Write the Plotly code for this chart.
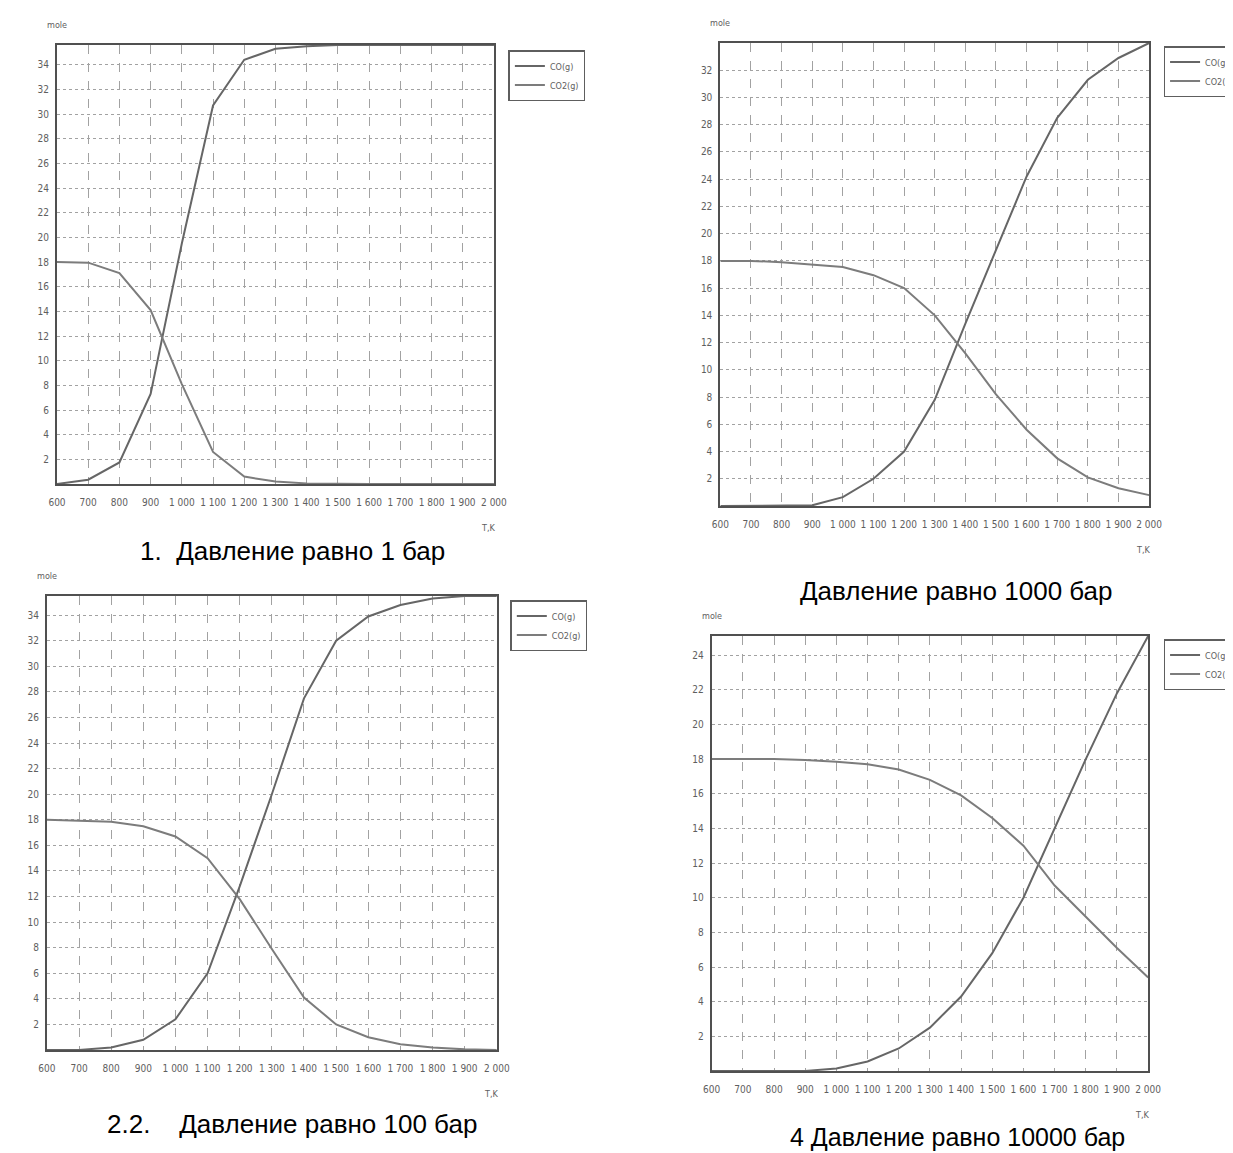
import plotly.graph_objects as go

# ---------------- data ----------------
T = [600, 700, 800, 900, 1000, 1100, 1200, 1300, 1400, 1500, 1600, 1700, 1800, 1900, 2000]
X_TICK_LABELS = ["600", "700", "800", "900", "1 000", "1 100", "1 200", "1 300", "1 400",
                 "1 500", "1 600", "1 700", "1 800", "1 900", "2 000"]

# 1 bar
CO_1 = [0.0, 0.35, 1.75, 7.3, 19.5, 30.7, 34.4, 35.3, 35.5, 35.6, 35.6, 35.6, 35.6, 35.6, 35.6]
CO2_1 = [18.0, 17.95, 17.1, 14.1, 8.1, 2.6, 0.6, 0.2, 0.05, 0.0, 0.0, 0.0, 0.0, 0.0, 0.0]
# 1000 bar
CO_2 = [0.0, 0.0, 0.0, 0.05, 0.65, 2.0, 4.0, 7.8, 13.4, 18.8, 24.2, 28.5, 31.3, 32.9, 34.0]
CO2_2 = [18.0, 18.0, 17.9, 17.75, 17.55, 16.95, 16.0, 14.0, 11.2, 8.2, 5.6, 3.5, 2.1, 1.3, 0.8]
# 100 bar
CO_3 = [0.0, 0.0, 0.2, 0.8, 2.4, 6.0, 12.8, 20.0, 27.5, 32.0, 33.9, 34.8, 35.3, 35.5, 35.5]
CO2_3 = [18.0, 17.95, 17.85, 17.5, 16.7, 15.0, 11.8, 7.9, 4.1, 2.0, 1.0, 0.45, 0.2, 0.05, 0.0]
# 10000 bar
CO_4 = [0.0, 0.0, 0.0, 0.0, 0.15, 0.55, 1.3, 2.5, 4.3, 6.8, 10.0, 14.0, 18.0, 21.8, 25.1]
CO2_4 = [18.0, 18.0, 18.0, 17.95, 17.85, 17.7, 17.4, 16.8, 15.9, 14.6, 13.0, 10.7, 8.9, 7.1, 5.4]

Y_TICKS_1 = list(range(2, 35, 2))
Y_TICKS_2 = list(range(2, 33, 2))
Y_TICKS_3 = list(range(2, 35, 2))
Y_TICKS_4 = list(range(2, 25, 2))
Y_MAX = [35.6, 34.0, 35.5, 25.1]

CAPTIONS = ["1.\u00a0\u00a0Давление равно 1 бар",
            "Давление равно 1000 бар",
            "2.2.\u00a0\u00a0\u00a0\u00a0Давление равно 100 бар",
            "4 Давление равно 10000 бар"]
SERIES_NAMES = ["CO(g)", "CO2(g)"]

# ---------------- layout helpers ----------------
W, H = 1233, 1153


def px(x):
    return x / W


def py(y):
    return 1 - y / H


# plot areas in pixels: left, right, top, bottom
AREAS = [(41.5, 495, 37, 476), (730, 1175, 35, 498), (31, 498, 588, 1042), (721, 1174, 628, 1063)]
LEGEND_POS = [(510, 42), (1190, 38), (512, 592), (1190, 631)]
CAPTION_POS = [(286, 543), (975, 583), (285, 1116), (976, 1129)]
CAPTION_SIZE = [26, 26, 26, 25]

SMALL_FONT = "Liberation Sans Narrow, DejaVu Sans Condensed, Liberation Sans, Arial, sans-serif"
GRAY_TXT = "#5e5e5e"
LINE_COLORS = ["#666666", "#7c7c7c"]
GRID = "#a2a2a2"

fig = go.Figure()
datasets = [(CO_1, CO2_1), (CO_2, CO2_2), (CO_3, CO2_3), (CO_4, CO2_4)]
yticks = [Y_TICKS_1, Y_TICKS_2, Y_TICKS_3, Y_TICKS_4]

layout = dict(width=W, height=H, margin=dict(l=0, r=0, t=0, b=0),
              paper_bgcolor="white", plot_bgcolor="white", showlegend=True,
              annotations=[], shapes=[])

for i, (co, co2) in enumerate(datasets):
    n = i + 1
    sfx = "" if n == 1 else str(n)
    leg = "legend" if n == 1 else f"legend{n}"
    for name, vals, col in zip(SERIES_NAMES, (co, co2), LINE_COLORS):
        fig.add_trace(go.Scatter(x=T, y=vals, mode="lines", name=name,
                                 line=dict(color=col, width=2),
                                 xaxis=f"x{sfx}", yaxis=f"y{sfx}", legend=leg))
    l, r, t, b = AREAS[i]
    layout[f"xaxis{sfx}"] = dict(
        domain=[px(l), px(r)], anchor=f"y{sfx}", range=[600, 2000],
        tickvals=T, ticktext=X_TICK_LABELS, ticks="", ticklabelstandoff=8,
        tickfont=dict(family=SMALL_FONT, size=10, color=GRAY_TXT),
        showgrid=True, gridcolor=GRID, gridwidth=1, griddash="dash",
        showline=True, mirror=True, linecolor="#505050", linewidth=2, zeroline=False)
    layout[f"yaxis{sfx}"] = dict(
        domain=[py(b), py(t)], anchor=f"x{sfx}", range=[0, Y_MAX[i]],
        tickvals=yticks[i], ticks="", ticklabelstandoff=4,
        tickfont=dict(family=SMALL_FONT, size=10, color=GRAY_TXT),
        showgrid=True, gridcolor=GRID, gridwidth=1, griddash="dot",
        showline=True, mirror=True, linecolor="#505050", linewidth=2, zeroline=False)
    lx, ly = LEGEND_POS[i]
    layout[leg] = dict(x=px(lx), y=py(ly), xanchor="left", yanchor="top",
                       bgcolor="white", bordercolor="#5e5e5e", borderwidth=1.5,
                       font=dict(family=SMALL_FONT, size=9, color=GRAY_TXT),
                       itemwidth=30, tracegroupgap=0)
    # "mole" label
    layout["annotations"].append(dict(x=px(l), y=py(t - 20), xref="paper", yref="paper",
                                      text="mole", showarrow=False, xanchor="center", yanchor="middle",
                                      font=dict(family=SMALL_FONT, size=9, color=GRAY_TXT)))
    # T,K label
    layout["annotations"].append(dict(x=px(r - 6), y=py(b + 44), xref="paper", yref="paper",
                                      text="T,K", showarrow=False, xanchor="center", yanchor="middle",
                                      font=dict(family=SMALL_FONT, size=9, color=GRAY_TXT)))
    cx, cy = CAPTION_POS[i]
    layout["annotations"].append(dict(x=px(cx), y=py(cy), xref="paper", yref="paper",
                                      text=CAPTIONS[i], showarrow=False, xanchor="center", yanchor="middle",
                                      borderpad=0,
                                      font=dict(family="Liberation Sans, Arial, sans-serif",
                                                size=CAPTION_SIZE[i], color="black")))

fig.update_layout(**layout)
fig.write_html("out.html")
